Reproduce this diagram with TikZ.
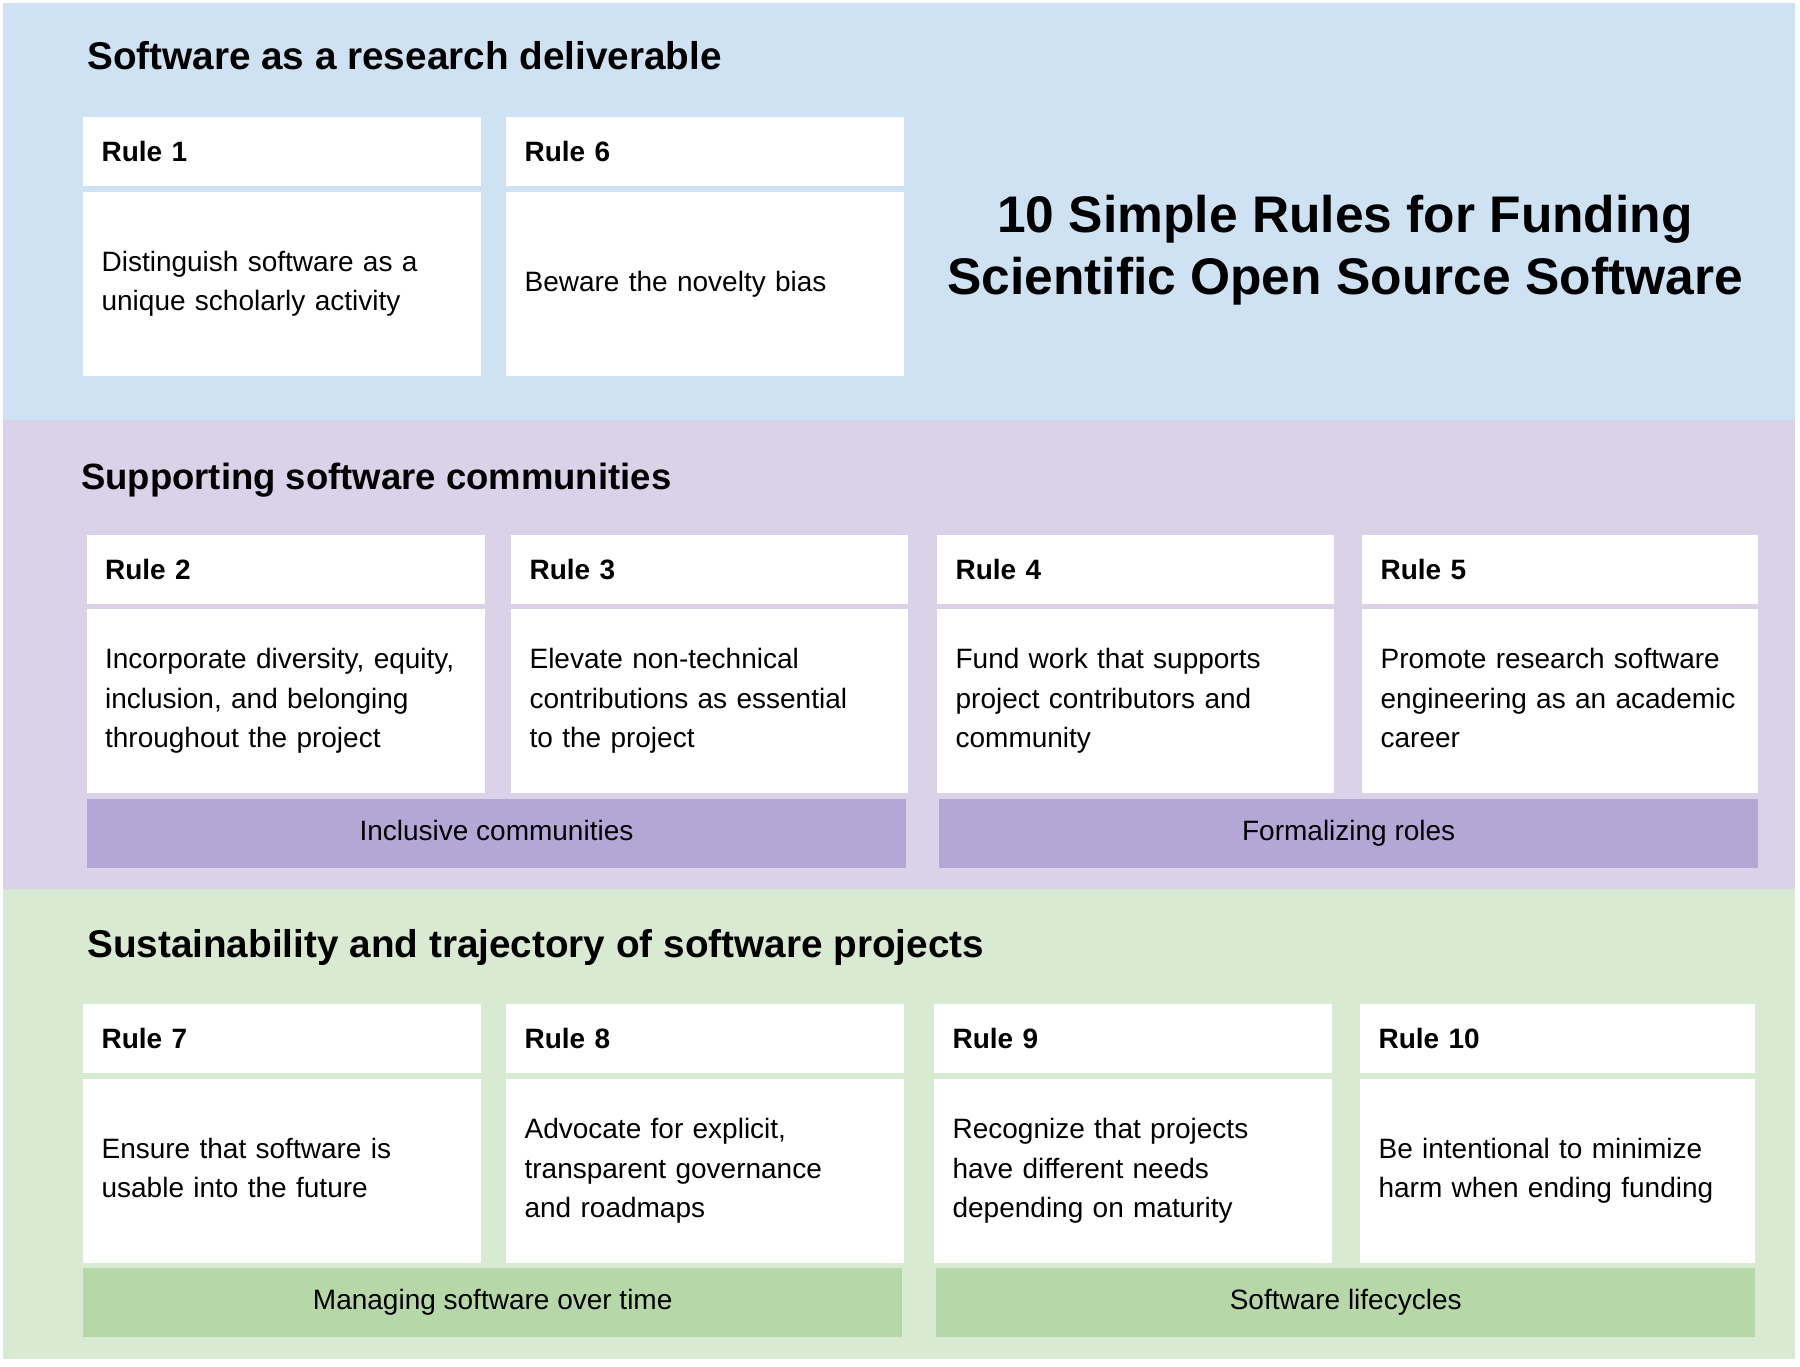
\documentclass[tikz,border=0pt]{standalone}
\usepackage{fontspec}
\setmainfont{Liberation Sans}
\hyphenpenalty=10000
\exhyphenpenalty=10000
\definecolor{bluebg}{HTML}{CFE2F3}
\definecolor{purplebg}{HTML}{D9D2E9}
\definecolor{greenbg}{HTML}{D9EAD3}
\definecolor{purplebar}{HTML}{B4A7D6}
\definecolor{greenbar}{HTML}{B6D7A8}
\begin{document}
\begin{tikzpicture}[x=1pt,y=-1pt,
  heading/.style={anchor=base west, inner sep=0pt, font=\fontsize{38.7}{46}\selectfont\bfseries},
  rulehdr/.style={fill=white, anchor=north west, inner xsep=18.4pt, inner ysep=0pt,
    text width=#1, align=left, minimum height=68.5pt,
    font=\fontsize{28}{34}\selectfont\bfseries},
  rulehdr/.default=361.2pt,
  rulebody/.style={fill=white, anchor=north west, inner xsep=18.4pt, inner ysep=0pt,
    text width=#1, align=left, minimum height=183.5pt,
    font=\fontsize{28}{39.5}\selectfont},
  rulebody/.default=361.2pt,
  bar/.style={anchor=north west, inner sep=0pt, minimum height=68.5pt,
    text height=20.5pt, text depth=6pt,
    font=\fontsize{28}{34}\selectfont},
  titlestyle/.style={align=center, inner sep=0pt, font=\fontsize{51.5}{62}\selectfont\bfseries}
]
\useasboundingbox (0,0) rectangle (1800,1367);
\fill[white] (0,0) rectangle (1800,1367);
% panels
\fill[bluebg] (3,3) rectangle (1795,420);
\fill[purplebg] (3,420) rectangle (1795,889);
\fill[greenbg] (3,889) rectangle (1795,1359);

% section 1
\node[heading] (s1) at (87,70) {Software as a research deliverable};
\node[rulehdr] (r1h) at (83,117) {Rule 1};
\node[rulebody] (r1b) at (83,192) {Distinguish software as a\\unique scholarly activity};
\node[rulehdr] (r6h) at (506,117) {Rule 6};
\node[rulebody] (r6b) at (506,192) {Beware the novelty bias};
\node[titlestyle] (title) at (1345,250) {10 Simple Rules for Funding\\Scientific Open Source Software};

% section 2
\node[heading, font=\fontsize{36.5}{44}\selectfont\bfseries] (s2) at (81,489) {Supporting software communities};
\node[rulehdr] (r2h) at (86.5,535) {Rule 2};
\node[rulebody] (r2b) at (86.5,609) {Incorporate diversity, equity,\\inclusion, and belonging\\throughout the project};
\node[rulehdr=360.2pt] (r3h) at (511,535) {Rule 3};
\node[rulebody=360.2pt] (r3b) at (511,609) {Elevate non-technical\\contributions as essential\\to the project};
\node[rulehdr=360.2pt] (r4h) at (937,535) {Rule 4};
\node[rulebody=360.2pt] (r4b) at (937,609) {Fund work that supports\\project contributors and\\community};
\node[rulehdr=359.2pt] (r5h) at (1362,535) {Rule 5};
\node[rulebody=359.2pt] (r5b) at (1362,609) {Promote research software\\engineering as an academic\\career\vphantom{y}};
\node[bar, fill=purplebar, minimum width=819.5pt] (b1) at (86.5,799) {Inclusive communities};
\node[bar, fill=purplebar, minimum width=819pt] (b2) at (939,799) {Formalizing roles};

% section 3
\node[heading] (s3) at (87,957) {Sustainability and trajectory of software projects};
\node[rulehdr] (r7h) at (83,1004) {Rule 7};
\node[rulebody] (r7b) at (83,1079) {Ensure that software is\\usable into the future\vphantom{y}};
\node[rulehdr] (r8h) at (506,1004) {Rule 8};
\node[rulebody] (r8b) at (506,1079) {Advocate for explicit,\\transparent governance\\and roadmaps};
\node[rulehdr] (r9h) at (934,1004) {Rule 9};
\node[rulebody] (r9b) at (934,1079) {Recognize that projects\\have different needs\\depending on maturity};
\node[rulehdr=358.2pt] (r10h) at (1360,1004) {Rule 10};
\node[rulebody=358.2pt] (r10b) at (1360,1079) {Be intentional to minimize\\harm when ending funding};
\node[bar, fill=greenbar, minimum width=819pt] (b3) at (83,1268) {Managing software over time};
\node[bar, fill=greenbar, minimum width=819pt] (b4) at (936,1268) {Software lifecycles};
\end{tikzpicture}
\end{document}
